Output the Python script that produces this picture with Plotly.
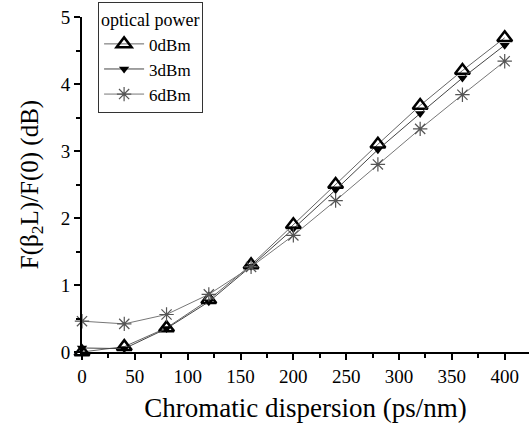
import plotly.graph_objects as go

# Chromatic dispersion sweep (ps/nm)
dispersion = [0, 40, 80, 120, 160, 200, 240, 280, 320, 360, 400]

# Normalised penalty F(beta2 L)/F(0) in dB for each launch power
p0dBm = [0.00, 0.08, 0.36, 0.78, 1.30, 1.90, 2.50, 3.10, 3.68, 4.20, 4.69]
p3dBm = [0.06, 0.05, 0.35, 0.75, 1.28, 1.84, 2.42, 3.02, 3.56, 4.09, 4.58]
p6dBm = [0.46, 0.42, 0.56, 0.86, 1.27, 1.74, 2.26, 2.80, 3.33, 3.84, 4.34]

series_names = ["0dBm", "3dBm", "6dBm"]

FONT = "Times New Roman, Liberation Serif, serif"

fig = go.Figure()
fig.add_trace(go.Scatter(
    x=dispersion, y=p0dBm, name=series_names[0], mode="lines+markers",
    line=dict(color="#666666", width=1),
    marker=dict(symbol="triangle-up-open", size=13, color="black",
                line=dict(width=2.5, color="black")),
    cliponaxis=False))
fig.add_trace(go.Scatter(
    x=dispersion, y=p3dBm, name=series_names[1], mode="lines+markers",
    line=dict(color="#444444", width=1),
    marker=dict(symbol="triangle-down", size=9, color="black"),
    cliponaxis=False))
fig.add_trace(go.Scatter(
    x=dispersion, y=p6dBm, name=series_names[2], mode="lines+markers",
    line=dict(color="#777777", width=1),
    marker=dict(symbol="asterisk-open", size=12, color="#555555",
                line=dict(width=1.2, color="#555555")),
    cliponaxis=False))

fig.update_layout(
    width=529, height=431,
    margin=dict(l=82, r=0, t=17, b=79),
    paper_bgcolor="white", plot_bgcolor="white",
    font=dict(family=FONT, color="black", size=19),
    showlegend=True,
    legend=dict(
        title=dict(text="optical power", font=dict(size=18, family=FONT)),
        x=0.036, y=1.045, xanchor="left", yanchor="top",
        bgcolor="white", bordercolor="#333333", borderwidth=1,
        font=dict(size=17, family=FONT),
        tracegroupgap=0, itemwidth=40,
    ),
    xaxis=dict(
        range=[0, 423], showgrid=False, zeroline=False,
        showline=True, linecolor="black", linewidth=2,
        tickmode="linear", tick0=0, dtick=50,
        ticks="outside", ticklen=6, tickwidth=2, tickcolor="black",
        minor=dict(dtick=25, ticks="outside", ticklen=4, tickwidth=2, tickcolor="black"),
        tickfont=dict(size=19, family=FONT),
        title=dict(text="Chromatic dispersion (ps/nm)", font=dict(size=27, family=FONT),
                   standoff=12),
    ),
    yaxis=dict(
        range=[0, 5], showgrid=False, zeroline=False,
        showline=True, linecolor="black", linewidth=2,
        tickmode="linear", tick0=0, dtick=1,
        ticks="outside", ticklen=6, tickwidth=2, tickcolor="black",
        minor=dict(dtick=0.5, ticks="outside", ticklen=4, tickwidth=2, tickcolor="black"),
        tickfont=dict(size=19, family=FONT),
        title=dict(text="F(β<sub>2</sub>L)/F(0) (dB)", font=dict(size=25, family=FONT),
                   standoff=15),
    ),
)

fig.write_html("out.html")
